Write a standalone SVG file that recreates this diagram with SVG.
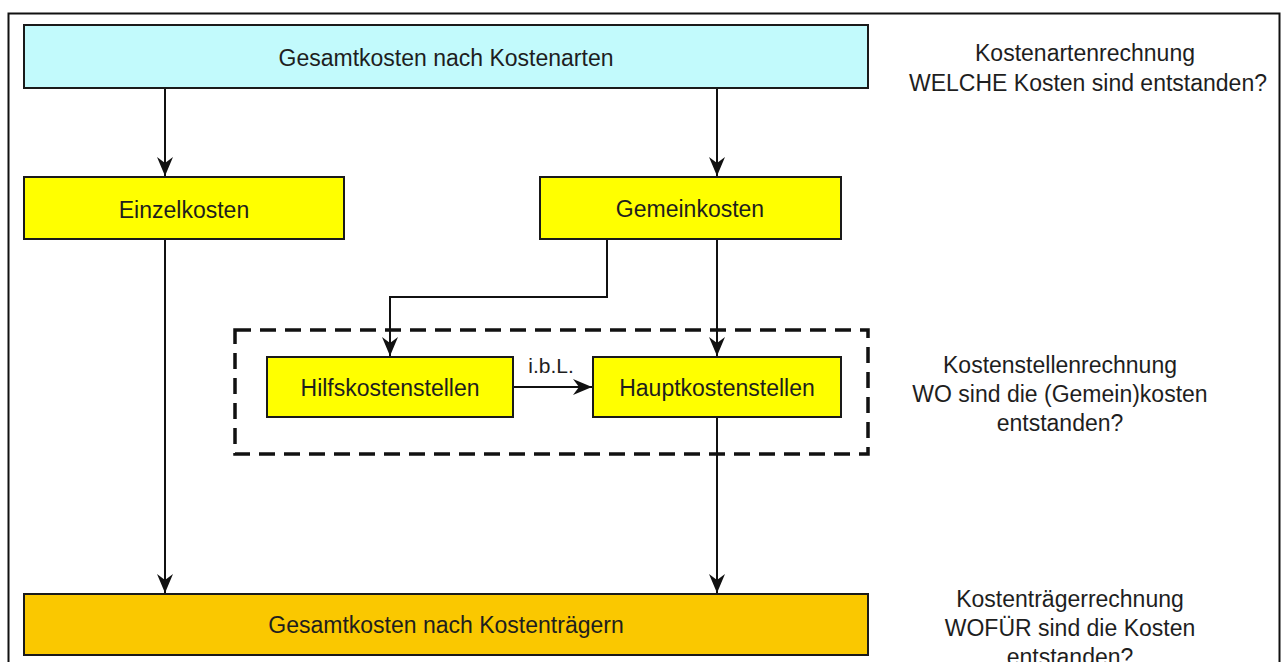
<svg xmlns="http://www.w3.org/2000/svg" width="1286" height="662" viewBox="0 0 1286 662">
<defs>
<style>
.box{stroke:#1a1a1a;stroke-width:2}
.t{font-family:"Liberation Sans",Arial,sans-serif;font-size:23px;fill:#1e1e1e;text-anchor:middle}
.c{fill:none;stroke:#111;stroke-width:2}
</style>
<marker id="ah" viewBox="-20 -9 22 18" refX="0" refY="0" markerWidth="22" markerHeight="18" markerUnits="userSpaceOnUse" orient="auto">
<path d="M0,0 L-19,-8 L-13,0 L-19,8 Z" fill="#111"/>
</marker>
</defs>
<rect width="1286" height="662" fill="#fff"/>
<rect x="8.5" y="13.5" width="1271" height="700" fill="none" stroke="#111" stroke-width="2"/>

<g id="connectors">
<path class="c" d="M165,88 V176" marker-end="url(#ah)"/>
<path class="c" d="M717,88 V176" marker-end="url(#ah)"/>
<path class="c" d="M165,239 V593" marker-end="url(#ah)"/>
<path class="c" d="M607,239 V297 H390 V356" marker-end="url(#ah)"/>
<path class="c" d="M717,239 V356" marker-end="url(#ah)"/>
<path class="c" d="M513,387 H592" marker-end="url(#ah)"/>
<path class="c" d="M717,417 V593" marker-end="url(#ah)"/>
<text class="t" x="551" y="373" style="font-size:21px">i.b.L.</text>
</g>

<g id="kostenstellen-bereich">
<rect x="235" y="330" width="633" height="124" fill="none" stroke="#111" stroke-width="3.5" stroke-dasharray="16 9"/>
</g>

<g id="gesamt-kostenarten">
<rect class="box" x="24" y="25" width="844" height="63" fill="#C2FAFC"/>
<text class="t" x="446" y="66">Gesamtkosten nach Kostenarten</text>
</g>
<g id="einzelkosten">
<rect class="box" x="24" y="177" width="320" height="62" fill="#FFFF00"/>
<text class="t" x="184" y="218">Einzelkosten</text>
</g>
<g id="gemeinkosten">
<rect class="box" x="540" y="177" width="301" height="62" fill="#FFFF00"/>
<text class="t" x="690" y="217">Gemeinkosten</text>
</g>
<g id="hilfskostenstellen">
<rect class="box" x="267" y="357" width="246" height="60" fill="#FFFF00"/>
<text class="t" x="390" y="396">Hilfskostenstellen</text>
</g>
<g id="hauptkostenstellen">
<rect class="box" x="593" y="357" width="248" height="60" fill="#FFFF00"/>
<text class="t" x="717" y="396">Hauptkostenstellen</text>
</g>
<g id="gesamt-kostentraeger">
<rect class="box" x="24" y="594" width="844" height="61" fill="#FAC800"/>
<text class="t" x="446" y="633">Gesamtkosten nach Kostenträgern</text>
</g>

<g id="label-kostenarten">
<text class="t" x="1085" y="61">Kostenartenrechnung</text>
<text class="t" x="1088" y="91">WELCHE Kosten sind entstanden?</text>
</g>
<g id="label-kostenstellen">
<text class="t" x="1060" y="373">Kostenstellenrechnung</text>
<text class="t" x="1060" y="402">WO sind die (Gemein)kosten</text>
<text class="t" x="1060" y="431">entstanden?</text>
</g>
<g id="label-kostentraeger">
<text class="t" x="1070" y="607">Kostenträgerrechnung</text>
<text class="t" x="1070" y="636">WOFÜR sind die Kosten</text>
<text class="t" x="1070" y="665">entstanden?</text>
</g>
</svg>
